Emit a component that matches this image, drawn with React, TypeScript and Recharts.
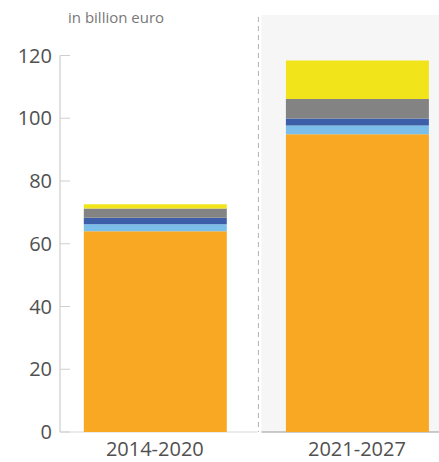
import React from "react"
import { BarChart, Bar, XAxis, YAxis, ReferenceArea } from "recharts"

const periods = ["2014-2020", "2021-2027"]
const orange = [64.0, 94.9]
const lightBlue = [2.2, 2.8]
const darkBlue = [2.1, 2.2]
const grey = [2.9, 6.2]
const yellow = [1.4, 12.3]
const yTicks = [0, 20, 40, 60, 80, 100, 120]

const data = periods.map((p, i) => ({
  period: p,
  orange: orange[i],
  lightBlue: lightBlue[i],
  darkBlue: darkBlue[i],
  grey: grey[i],
  yellow: yellow[i],
}))

const PLOT_LEFT = 60
const FONT = "'Open Sans', sans-serif"

function YTick(props: any) {
  const { x, y, payload } = props
  return (
    <g>
      <line x1={x + 8} x2={x + 18} y1={y} y2={y} stroke="#cfcfcf" />
      <text
        x={x}
        y={y}
        dy="0.36em"
        textAnchor="end"
        fontSize={20}
        fontFamily={FONT}
        fill="#505050"
      >
        {payload.value}
      </text>
    </g>
  )
}

function XTick(props: any) {
  const { x, y, payload } = props
  return (
    <text
      x={x}
      y={y}
      dy="0.71em"
      textAnchor="middle"
      fontSize={20}
      fontFamily={FONT}
      fill="#505050"
    >
      {payload.value}
    </text>
  )
}

// background panel, dashed divider and baselines for the second period
function Panel(props: any) {
  const { x, y, width, height } = props
  const bottom = y + height
  const left = x + 5.5
  return (
    <g>
      <rect x={left} y={15} width={width + 20} height={bottom - 15} fill="#f6f6f6" />
      <line
        x1={x + 2.5}
        x2={x + 2.5}
        y1={17}
        y2={bottom}
        stroke="#b0b0b0"
        strokeDasharray="5 4"
      />
      <line x1={PLOT_LEFT} x2={x + 1.5} y1={bottom} y2={bottom} stroke="#d8d8d8" />
      <line x1={left} x2={x + width + 20} y1={bottom} y2={bottom} stroke="#9a9a9a" />
    </g>
  )
}

export default function App() {
  return (
    <div
      style={{
        position: "absolute",
        left: 0,
        top: 0,
        width: 439,
        height: 462,
        overflow: "hidden",
        background: "#fff",
      }}
    >
      <div
        style={{
          position: "absolute",
          left: 68,
          top: 7,
          fontFamily: FONT,
          fontSize: 15,
          color: "#777",
          whiteSpace: "nowrap",
        }}
      >
        in billion euro
      </div>
      <BarChart
        width={458}
        height={462}
        data={data}
        margin={{ top: 55.5, right: 0, bottom: 0, left: 0 }}
      >
        <ReferenceArea x1="2021-2027" x2="2021-2027" shape={<Panel />} ifOverflow="visible" />
        <XAxis
          dataKey="period"
          axisLine={false}
          tickLine={false}
          tickSize={0}
          tickMargin={10}
          height={30}
          padding={{ left: -6.2, right: 0 }}
          tick={<XTick />}
          interval={0}
        />
        <YAxis
          width={PLOT_LEFT}
          domain={[0, 120]}
          ticks={yTicks}
          interval={0}
          axisLine={{ stroke: "#c4c4c4" }}
          tickLine={false}
          tickSize={0}
          tickMargin={8}
          tick={<YTick />}
        />
        <Bar dataKey="orange" stackId="a" fill="#F8A823" barSize={143} isAnimationActive={false} />
        <Bar dataKey="lightBlue" stackId="a" fill="#7BBEEA" barSize={143} isAnimationActive={false} />
        <Bar dataKey="darkBlue" stackId="a" fill="#3D5EA8" barSize={143} isAnimationActive={false} />
        <Bar dataKey="grey" stackId="a" fill="#838383" barSize={143} isAnimationActive={false} />
        <Bar dataKey="yellow" stackId="a" fill="#F1E41B" barSize={143} isAnimationActive={false} />
      </BarChart>
    </div>
  )
}
